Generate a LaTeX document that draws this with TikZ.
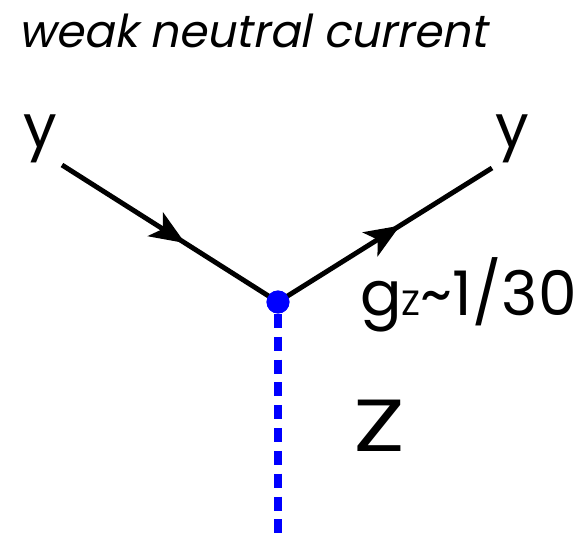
\documentclass[tikz,border=0pt]{standalone}
\usepackage{fontspec}
\setmainfont{Poppins}
\newfontfamily\oblique[FakeSlant=0.2]{Poppins}
\usetikzlibrary{arrows.meta,decorations.markings}

\begin{document}
\begin{tikzpicture}[>={Stealth[length=20pt,width=16pt,inset=5pt]},x=0.02cm,y=-0.02cm]
\tikzstyle{fermion}=[line width=2.8pt,postaction={decorate},decoration={markings,mark=at position 0.57 with {\arrow{>}}}]
\tikzstyle{boson}=[blue,line width=4.5pt,dash pattern=on 8pt off 5pt]
\tikzstyle{big}=[font=\fontsize{34}{40}\selectfont,anchor=base,inner sep=0pt]
\useasboundingbox (0,0) rectangle (586,541);
\node[anchor=base west,inner sep=0pt,font=\oblique\fontsize{25.8}{30}\selectfont] (title) at (18,48) {weak neutral current};
\node[big] (yl) at (40,148) {y};
\node[big] (yr) at (512,148) {y};
\coordinate (in) at (62,165); \coordinate (out) at (492,168);
\node[circle,fill=blue,inner sep=0pt,minimum size=0.46cm] (vtx) at (278,302) {};
\coordinate (zend) at (278,541);
% fermion lines meet at the vertex
\draw[fermion] (in) -- (vtx.center);
\draw[fermion] (vtx.center) -- (out);
\node[circle,fill=blue,inner sep=0pt,minimum size=0.46cm] at (vtx) {};
\draw[boson] (vtx.south) -- (zend);
\node[anchor=base west,inner sep=0pt,font=\fontsize{35}{38}\selectfont] (gz) at (360,316) {g{\fontsize{20}{22}\selectfont Z}\textasciitilde1/30};
\node[big,font=\fontsize{42}{46}\selectfont] (zlab) at (379,451) {\scalebox{1.3}[1]{Z}};
\end{tikzpicture}
\end{document}
